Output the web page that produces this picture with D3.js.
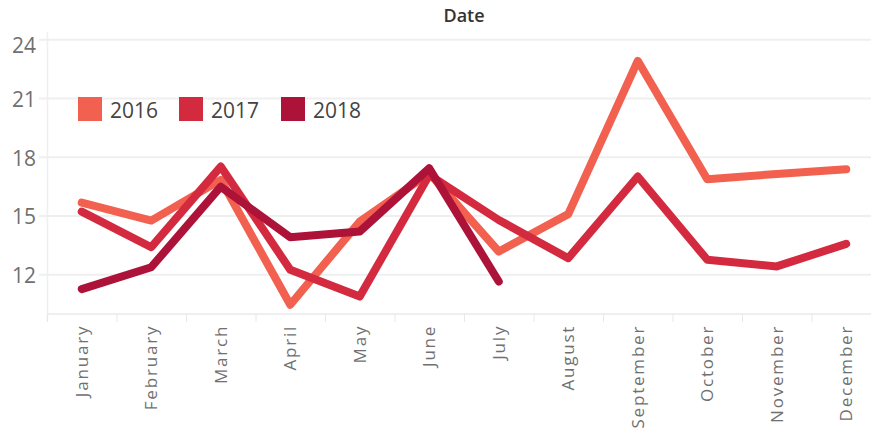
<!DOCTYPE html>
<html><head><meta charset="utf-8">
<script src="https://cdn.jsdelivr.net/npm/d3@7"></script>
<style>body{margin:0;background:#fff;}svg{display:block;}</style>
</head><body>
<script>
const months = ["January","February","March","April","May","June","July","August","September","October","November","December"];
const years = ["2016","2017","2018"];
const values2016 = [15.69,14.77,16.85,10.47,14.72,17.19,13.19,15.1,22.93,16.88,17.15,17.39];
const values2017 = [15.23,13.41,17.53,12.26,10.89,17.1,14.8,12.85,17.02,12.77,12.43,13.58];
const values2018 = [11.27,12.39,16.5,13.92,14.21,17.44,11.66];
const yTicks = [12,15,18,21,24];
const colors = ["#F2604F","#D42A3F","#AD1238"];

const W=871,H=431;
const svg=d3.select("body").append("svg").attr("width",W).attr("height",H);
const font="'Open Sans', sans-serif";
const x=d3.scaleBand().domain(months).range([47,881]);
const y=d3.scaleLinear().domain([10,24.4]).range([314,32]);

// gridlines
svg.append("g").selectAll("line").data(yTicks).join("line")
  .attr("x1",39).attr("x2",W).attr("y1",d=>y(d)).attr("y2",d=>y(d))
  .attr("stroke","#efefef").attr("stroke-width",2);
// left axis line
svg.append("line").attr("x1",47.5).attr("x2",47.5).attr("y1",32).attr("y2",322).attr("stroke","#efefef").attr("stroke-width",1.5);
// bottom axis line
svg.append("line").attr("x1",47).attr("x2",W).attr("y1",y(10)).attr("y2",y(10)).attr("stroke","#efefef").attr("stroke-width",2);
// column separators
svg.append("g").selectAll("line").data(months).join("line")
  .attr("x1",d=>x(d)+0.5).attr("x2",d=>x(d)+0.5).attr("y1",y(10)).attr("y2",y(10)+8)
  .attr("stroke","#e8e8e8").attr("stroke-width",1);

// y labels
svg.append("g").selectAll("text").data(yTicks).join("text")
  .attr("x",36).attr("y",d=>Math.max(y(d)+1,45.5)).attr("dy","0.35em").attr("text-anchor","end")
  .attr("font-family",font).attr("font-size",21).attr("fill","#707070").text(d=>d);
// x labels
const ls=1.8;
svg.append("g").selectAll("text").data(months).join("text")
  .attr("transform",d=>`translate(${x(d)+x.bandwidth()/2+6},${323+ls}) rotate(-90)`)
  .attr("text-anchor","end").attr("letter-spacing",ls)
  .attr("font-family",font).attr("font-size",17).attr("fill","#707070").text(d=>d);
// title
svg.append("text").attr("x",(x.range()[0]+x.range()[1])/2).attr("y",22).attr("text-anchor","middle")
  .attr("font-family",font).attr("font-weight",600).attr("font-size",18).attr("fill","#333").text("Date");

// lines
const series=[values2016,values2017,values2018];
const line=d3.line().x((d,i)=>x(months[i])+x.bandwidth()/2).y(d=>y(d));
svg.append("g").selectAll("path").data(series).join("path")
  .attr("d",d=>line(d)).attr("fill","none").attr("stroke",(d,i)=>colors[i])
  .attr("stroke-width",8).attr("stroke-linejoin","round").attr("stroke-linecap","round");

// legend
const lx=[78,179,281];
const lg=svg.append("g").selectAll("g").data(years).join("g").attr("transform",(d,i)=>`translate(${lx[i]},97)`);
lg.append("rect").attr("width",24).attr("height",24).attr("fill",(d,i)=>colors[i]);
lg.append("text").attr("x",32).attr("y",21).attr("font-family",font).attr("font-size",21).attr("fill","#444").text(d=>d);
</script>
</body></html>
